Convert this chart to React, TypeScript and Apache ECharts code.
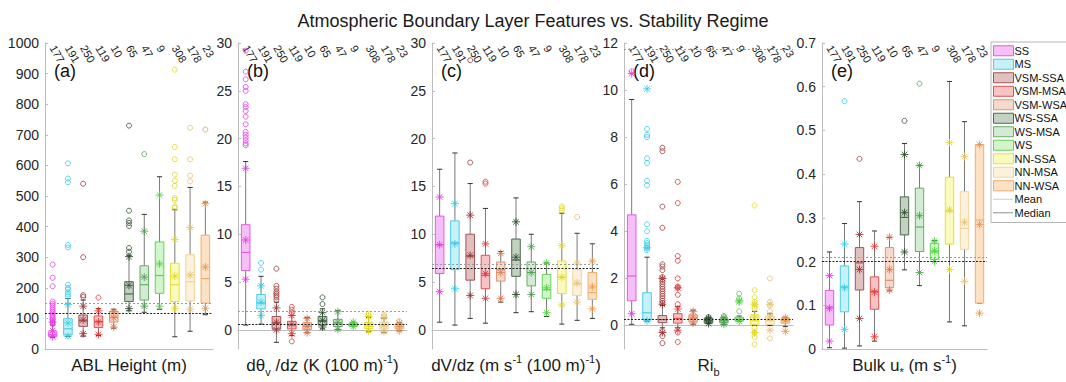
import React, { useEffect, useRef } from 'react';
import * as echarts from 'echarts';

const categories = ['SS', 'MS', 'VSM-SSA', 'VSM-MSA', 'VSM-WSA', 'WS-SSA', 'WS-MSA', 'WS', 'NN-SSA', 'NN-MSA', 'NN-WSA'];
const counts = ['177', '191', '250', '119', '10', '65', '47', '9', '308', '178', '23'];

// [low whisker, q1, median, q3, high whisker]
const ablBox = [
  [38, 42, 46, 56, 78], [41, 46, 66, 99, 165], [42, 74, 92, 111, 160], [44, 70, 90, 108, 132],
  [68, 88, 104, 124, 130], [125, 155, 180, 220, 305], [120, 160, 210, 272, 440], [130, 182, 240, 350, 563],
  [40, 155, 210, 280, 455], [58, 157, 220, 308, 528], [112, 150, 230, 372, 480],
];
const ablMean = [60, 85, 95, 88, 102, 208, 235, 278, 238, 242, 268];
const ablP95 = [88, 145, 140, 125, 122, 302, 385, 503, 358, 397, 475];
const ablP5 = [40, 42, 50, 48, 72, 132, 140, 140, 133, 130, 133];
const ablOut = [
  [82, 86, 90, 95, 100, 105, 110, 116, 122, 128, 135, 142, 148, 155, 205, 233, 276],
  [172, 178, 185, 195, 200, 210, 332, 340, 545, 557, 607],
  [170, 176, 300, 540], [168], [],
  [318, 330, 402, 412, 420, 452, 730], [637], [],
  [462, 466, 487, 493, 533, 550, 570, 620, 660, 913], [548, 567, 620, 723], [717],
];
const ablTicks = [0, 100, 200, 300, 400, 500, 600, 700, 800, 900, 1000];

const dthBox = [
  [0.5, 6.2, 8.1, 11.0, 17.6], [0.6, 2.2, 2.8, 3.7, 5.6], [-1.3, 0.1, 0.7, 1.4, 2.9], [-0.6, 0.1, 0.5, 0.9, 1.5],
  [-0.3, 0.05, 0.35, 0.75, 1.3], [0.1, 0.5, 0.9, 1.4, 2.2], [0.05, 0.35, 0.7, 1.1, 2.0], [0.35, 0.4, 0.55, 0.7, 0.8],
  [-0.2, 0.15, 0.4, 0.75, 1.3], [-0.3, 0.1, 0.35, 0.8, 1.2], [-0.1, 0.1, 0.3, 0.6, 0.75],
];
const dthMean = [9.4, 2.9, 0.8, 0.6, 0.4, 1.0, 0.8, 0.55, 0.6, 0.5, 0.35];
const dthP95 = [16.9, 4.6, 2.3, 1.5, 1.2, 1.8, 1.9, 0.8, 1.4, 1.3, 0.7];
const dthP5 = [5.3, 1.5, 0.0, -0.4, -0.3, 0.3, 0.05, 0.35, -0.1, -0.2, -0.1];
const dthOut = [
  [19.3, 19.5, 19.8, 20.1, 20.4, 20.7, 21.5, 22.3, 22.9, 23.3, 23.6, 25.0, 25.4, 26.2, 27.0, 29.2],
  [6.3, 7.0], [3.1, 3.4, 3.6, 3.8, 4.0, 4.3, 4.6, 6.4], [1.8, 2.1, 2.4, -1.2], [],
  [2.7, 3.4], [], [], [1.5, 1.7], [1.4, 1.6], [0.9],
];
const dthTicks = [0, 5, 10, 15, 20, 25, 30];

const dvBox = [
  [0.8, 5.9, 8.9, 11.9, 16.8], [0.5, 6.3, 9.1, 11.4, 18.5], [1.2, 5.2, 7.7, 10.0, 15.3], [0.7, 4.3, 5.7, 7.8, 12.7],
  [2.9, 5.1, 6.3, 7.1, 8.2], [1.8, 5.6, 7.3, 9.5, 13.8], [1.9, 4.6, 6.0, 7.1, 10.0], [1.4, 3.3, 4.2, 5.8, 7.0],
  [0.6, 3.8, 5.5, 7.2, 12.2], [1.0, 3.6, 4.8, 6.3, 10.1], [1.2, 3.2, 3.9, 6.0, 9.0],
];
const dvMean = [8.9, 9.0, 7.8, 5.9, 6.0, 7.6, 6.0, 4.4, 5.5, 4.9, 4.5];
const dvP95 = [13.9, 13.2, 12.0, 9.0, 8.0, 11.3, 8.7, 7.0, 8.8, 7.0, 7.2];
const dvP5 = [4.0, 4.3, 3.6, 3.3, 3.3, 3.7, 3.7, 1.8, 2.6, 2.9, 2.2];
const dvOut = [[], [], [17.5, 28.2], [15.3, 15.5], [], [], [], [], [12.5, 12.7, 12.9], [11.8], []];
const dvTicks = [0, 5, 10, 15, 20, 25, 30];

const riBox = [
  [0.05, 1.05, 2.1, 4.7, 9.6], [0.18, 0.25, 0.54, 1.39, 2.9], [-0.1, 0.12, 0.25, 0.42, 0.85], [-0.1, 0.1, 0.3, 0.5, 0.8],
  [0.05, 0.15, 0.3, 0.45, 0.65], [0.08, 0.12, 0.2, 0.3, 0.35], [0.05, 0.12, 0.2, 0.28, 0.35], [0.18, 0.2, 0.27, 0.35, 0.4],
  [0.0, 0.05, 0.2, 0.45, 0.6], [0.0, 0.05, 0.2, 0.4, 0.5], [-0.05, 0.1, 0.2, 0.3, 0.35],
];
const riMean = [10.7, 10.05, 0.9, 0.7, 0.35, 0.2, 0.2, 1.05, 0.35, 0.3, 0.2];
const riP95 = [null, 3.3, 2.0, 1.6, 0.6, 0.32, 0.34, 1.0, 0.9, 0.9, 0.33];
const riP5 = [0.5, 0.2, -0.3, -0.2, 0.1, 0.08, 0.05, 0.18, -0.3, -0.2, -0.25];
const riOut = [
  [10.8],
  [3.2, 3.3, 3.4, 3.5, 3.6, 4.0, 4.3, 5.95, 6.15, 6.9, 7.1, 8.0, 8.1, 8.35],
  [0.95, 1.05, 1.15, 1.25, 1.35, 1.45, 1.55, 1.65, 1.75, 1.85, 1.95, 2.05, 2.35, 2.5, 2.6, 4.15, 5.05, 7.4, 7.55, -0.25, -0.45, -0.75],
  [0.9, 1.3, 1.6, 1.65, 2.0, 2.75, 2.95, 5.2, 6.1, -0.3, -0.7],
  [], [0.35], [0.4], [0.6, 1.15, 1.35],
  [0.7, 0.8, 0.9, 1.0, 1.2, 1.5, 5.1, -0.1, -0.3, -0.5, -0.8],
  [0.45, 0.6, 0.85, 1.0, 2.0, -0.55], [],
];
const riTicks = [0, 2, 4, 6, 8, 10, 12];

const ustBox = [
  [0.003, 0.055, 0.096, 0.134, 0.222], [0.002, 0.085, 0.142, 0.19, 0.287], [0.007, 0.135, 0.197, 0.232, 0.337],
  [0.018, 0.091, 0.132, 0.165, 0.27], [0.133, 0.14, 0.157, 0.232, 0.255], [0.181, 0.261, 0.301, 0.348, 0.47],
  [0.145, 0.223, 0.279, 0.368, 0.42], [0.2, 0.205, 0.222, 0.242, 0.248], [0.062, 0.24, 0.315, 0.393, 0.612],
  [0.053, 0.228, 0.276, 0.36, 0.52], [0.105, 0.105, 0.295, 0.467, 0.467],
];
const ustMean = [0.093, 0.14, 0.182, 0.13, 0.182, 0.312, 0.305, 0.225, 0.318, 0.29, 0.285];
const ustP95 = [0.168, 0.24, 0.262, 0.235, 0.256, 0.445, 0.42, 0.247, 0.472, 0.44, 0.468];
const ustP5 = [0.018, 0.045, 0.07, 0.028, 0.135, 0.222, 0.175, 0.2, 0.182, 0.155, 0.082];
const ustOut = [[], [0.567], [0.435], [], [], [0.522], [0.607], [], [], [], []];
const ustTicks = [0, 0.1, 0.2, 0.3, 0.4, 0.5, 0.6, 0.7];

// overall mean / median reference lines
const meanLines = [150, 2.0, 6.85, 11.75, 0.213];
const medianLines = [118, 0.63, 6.45, 0.25, 0.2];

// styles
const fills = ['#f7bff7', '#c6f1f8', '#e0c0c0', '#f7c3c3', '#f5d9cc', '#c3d1c3', '#d2ebd2', '#d2f5ca', '#fafabd', '#fdf1dc', '#fde1c4'];
const borders = ['#e25ce2', '#4ccde6', '#a65252', '#e05252', '#e0936e', '#4b6a4b', '#6aad6a', '#66d15a', '#e6de3e', '#efd49c', '#f0ae6c'];
const markers = ['#e13ce1', '#35cbe8', '#9e3434', '#e03636', '#d97a52', '#2f4f2f', '#4fa24f', '#4fd23f', '#e0d61e', '#e6bf6e', '#e8964a'];

const FONT = '"Liberation Sans", Arial, Helvetica, sans-serif';
const ASTERISK = 'path://M5,0L5,10M0,5L10,5M1.5,1.5L8.5,8.5M8.5,1.5L1.5,8.5';
const DOTTED = 'path://M0,0h0.01v0.01h-0.01zM20,10h0.01v0.01h-0.01z' +
  Array.from({ length: 10 }, (_, k) => `M${k * 2},4.6h1v0.8h-1z`).join('');

const panels = [
  { box: ablBox, mean: ablMean, p95: ablP95, p5: ablP5, out: ablOut, ticks: ablTicks, min: 0, max: 1000,
    name: 'ABL Height (m)', tag: '(a)' },
  { box: dthBox, mean: dthMean, p95: dthP95, p5: dthP5, out: dthOut, ticks: dthTicks, min: -2, max: 30,
    name: 'dθ{sub|v} /dz (K (100 m){sup|-1})', tag: '(b)' },
  { box: dvBox, mean: dvMean, p95: dvP95, p5: dvP5, out: dvOut, ticks: dvTicks, min: -2, max: 30,
    name: 'dV/dz (m s{sup|-1} (100 m){sup|-1})', tag: '(c)' },
  { box: riBox, mean: riMean, p95: riP95, p5: riP5, out: riOut, ticks: riTicks, min: -1, max: 12,
    name: 'Ri{sub|b}', tag: '(d)' },
  { box: ustBox, mean: ustMean, p95: ustP95, p5: ustP5, out: ustOut, ticks: ustTicks, min: 0, max: 0.7,
    name: 'Bulk u{sub|*} (m s{sup|-1})', tag: '(e)' },
];

const layout = [
  { left: 45, width: 168 },
  { left: 238, width: 169 },
  { left: 432, width: 168 },
  { left: 624, width: 169 },
  { left: 822, width: 165 },
];
const GRID_TOP = 43;
const GRID_BOTTOM = 31;

function makeRender(j: number) {
  return (params: any, api: any) => {
    const x = api.value(0);
    const pl = api.coord([x, api.value(1)]);
    const p1 = api.coord([x, api.value(2)]);
    const pm = api.coord([x, api.value(3)]);
    const p3 = api.coord([x, api.value(4)]);
    const ph = api.coord([x, api.value(5)]);
    const bw = api.size([1, 0])[0] * 0.56;
    const cx = pl[0];
    const cap = bw * 0.3;
    return {
      type: 'group',
      children: [
        { type: 'line', shape: { x1: cx, y1: ph[1], x2: cx, y2: p3[1] }, style: { stroke: '#7a7a7a', lineWidth: 1 } },
        { type: 'line', shape: { x1: cx, y1: p1[1], x2: cx, y2: pl[1] }, style: { stroke: '#7a7a7a', lineWidth: 1 } },
        { type: 'line', shape: { x1: cx - cap, y1: ph[1], x2: cx + cap, y2: ph[1] }, style: { stroke: '#333', lineWidth: 1 } },
        { type: 'line', shape: { x1: cx - cap, y1: pl[1], x2: cx + cap, y2: pl[1] }, style: { stroke: '#333', lineWidth: 1 } },
        {
          type: 'rect',
          shape: { x: cx - bw / 2, y: p3[1], width: bw, height: Math.max(p1[1] - p3[1], 0.5) },
          style: { fill: fills[j], stroke: borders[j], lineWidth: 1 },
        },
        { type: 'line', shape: { x1: cx - bw / 2, y1: pm[1], x2: cx + bw / 2, y2: pm[1] }, style: { stroke: borders[j], lineWidth: 1.2 } },
      ],
    };
  };
}

function buildOption() {
  const grid: any[] = [];
  const xAxis: any[] = [];
  const yAxis: any[] = [];
  const series: any[] = [];
  const graphic: any[] = [];

  panels.forEach((p, i) => {
    const l = layout[i];
    grid.push({ left: l.left, width: l.width, top: GRID_TOP, bottom: GRID_BOTTOM });
    xAxis.push({
      type: 'category', gridIndex: i, data: categories, position: 'bottom',
      axisLine: { lineStyle: { color: '#bdbdbd' } },
      axisTick: { show: false }, axisLabel: { show: false }, splitLine: { show: false },
      name: p.name, nameLocation: 'middle', nameGap: 4,
      nameTextStyle: {
        fontSize: 17, color: '#1a1a1a', fontFamily: FONT, lineHeight: 24, verticalAlign: 'top',
        rich: {
          sub: { fontSize: 11, lineHeight: 12, verticalAlign: 'bottom', fontFamily: FONT, color: '#1a1a1a' },
          sup: { fontSize: 11, lineHeight: 12, verticalAlign: 'top', fontFamily: FONT, color: '#1a1a1a' },
        },
      },
    });
    xAxis.push({
      type: 'category', gridIndex: i, data: counts, position: 'top',
      axisLine: { show: false }, axisTick: { show: false }, splitLine: { show: false },
      axisLabel: { inside: true, rotate: 60, fontSize: 11, margin: 3, color: '#222', interval: 0, fontFamily: FONT, hideOverlap: false },
    });
    yAxis.push({
      type: 'value', gridIndex: i, min: p.min, max: p.max,
      axisLine: { show: true, lineStyle: { color: '#bdbdbd' } },
      axisTick: { show: true, inside: true, length: 3, lineStyle: { color: '#bdbdbd' }, customValues: p.ticks },
      axisLabel: {
        fontSize: 14, color: '#262626', margin: 6, fontFamily: FONT, customValues: p.ticks,
        formatter: (v: number) => String(v),
      },
      splitLine: { show: false },
    });

    categories.forEach((c, j) => {
      series.push({
        type: 'custom', name: c, xAxisIndex: 2 * i, yAxisIndex: i,
        data: [[j, ...p.box[j]]],
        encode: { x: 0, y: [1, 2, 3, 4, 5] },
        renderItem: makeRender(j),
        itemStyle: { color: fills[j], borderColor: borders[j] },
        z: 2,
      });
    });
    categories.forEach((c, j) => {
      series.push({
        type: 'scatter', name: c, xAxisIndex: 2 * i, yAxisIndex: i,
        data: p.out[j].map((v) => [j, v]),
        symbol: 'circle', symbolSize: 5,
        itemStyle: { color: 'rgba(0,0,0,0)', borderColor: markers[j], borderWidth: 1 },
        z: 3,
      });
      const stars = [p.mean[j], p.p5[j], p.p95[j]].filter((v) => v !== null && v !== undefined);
      series.push({
        type: 'scatter', name: c, xAxisIndex: 2 * i, yAxisIndex: i,
        data: stars.map((v) => [j, v]),
        symbol: ASTERISK, symbolSize: 8,
        itemStyle: { color: 'rgba(0,0,0,0)', borderColor: markers[j], borderWidth: 1, opacity: 0.85 },
        z: 4,
      });
    });
    series.push({
      type: 'line', name: 'Mean', xAxisIndex: 2 * i, yAxisIndex: i, data: [],
      itemStyle: { color: '#9a9a9a' },
      markLine: {
        silent: true, symbol: ['none', 'none'], label: { show: false },
        lineStyle: { color: '#9a9a9a', type: [2, 2], width: 1 },
        data: [{ yAxis: meanLines[i] }],
      },
      z: 1,
    });
    series.push({
      type: 'line', name: 'Median', xAxisIndex: 2 * i, yAxisIndex: i, data: [],
      itemStyle: { color: '#222' },
      markLine: {
        silent: true, symbol: ['none', 'none'], label: { show: false },
        lineStyle: { color: '#222', type: [2, 1.5], width: 1.2 },
        data: [{ yAxis: medianLines[i] }],
      },
      z: 1,
    });
    graphic.push({
      type: 'text', left: l.left + 9, top: 62,
      style: { text: p.tag, fontSize: 18, fill: '#111', fontFamily: FONT },
    });
  });

  const legendData: any[] = categories.map((c, j) => ({
    name: c, icon: 'rect',
    itemStyle: { color: fills[j], borderColor: borders[j], borderWidth: 1 },
  }));
  legendData.push({ name: 'Mean', icon: DOTTED, itemStyle: { color: '#9a9a9a', borderWidth: 0 } });
  legendData.push({ name: 'Median', icon: DOTTED, itemStyle: { color: '#222', borderWidth: 0 } });

  return {
    animation: false,
    backgroundColor: '#ffffff',
    textStyle: { fontFamily: FONT },
    title: {
      text: 'Atmospheric Boundary Layer Features vs. Stability Regime',
      left: 'center', top: 7,
      textStyle: { fontSize: 18, fontWeight: 'normal', color: '#1a1a1a', fontFamily: FONT },
    },
    legend: {
      orient: 'vertical', left: 991, top: 42,
      data: legendData,
      itemWidth: 20, itemHeight: 10, itemGap: 2,
      padding: [3, 3, 4, 2],
      borderColor: '#b5b5b5', borderWidth: 1, backgroundColor: '#fff',
      textStyle: { fontSize: 11, lineHeight: 11.5, color: '#111', fontFamily: FONT, padding: [0, 0, 0, -4] },
      selectedMode: false,
    },
    grid, xAxis, yAxis, series, graphic,
  };
}

export default function App() {
  const ref = useRef<HTMLDivElement>(null);
  useEffect(() => {
    if (!ref.current) return;
    const chart = echarts.init(ref.current, undefined, { renderer: 'svg' });
    chart.setOption(buildOption() as any);
    return () => chart.dispose();
  }, []);
  return <div ref={ref} style={{ position: 'fixed', left: 0, top: 0, width: 1066, height: 382, background: '#fff' }} />;
}
